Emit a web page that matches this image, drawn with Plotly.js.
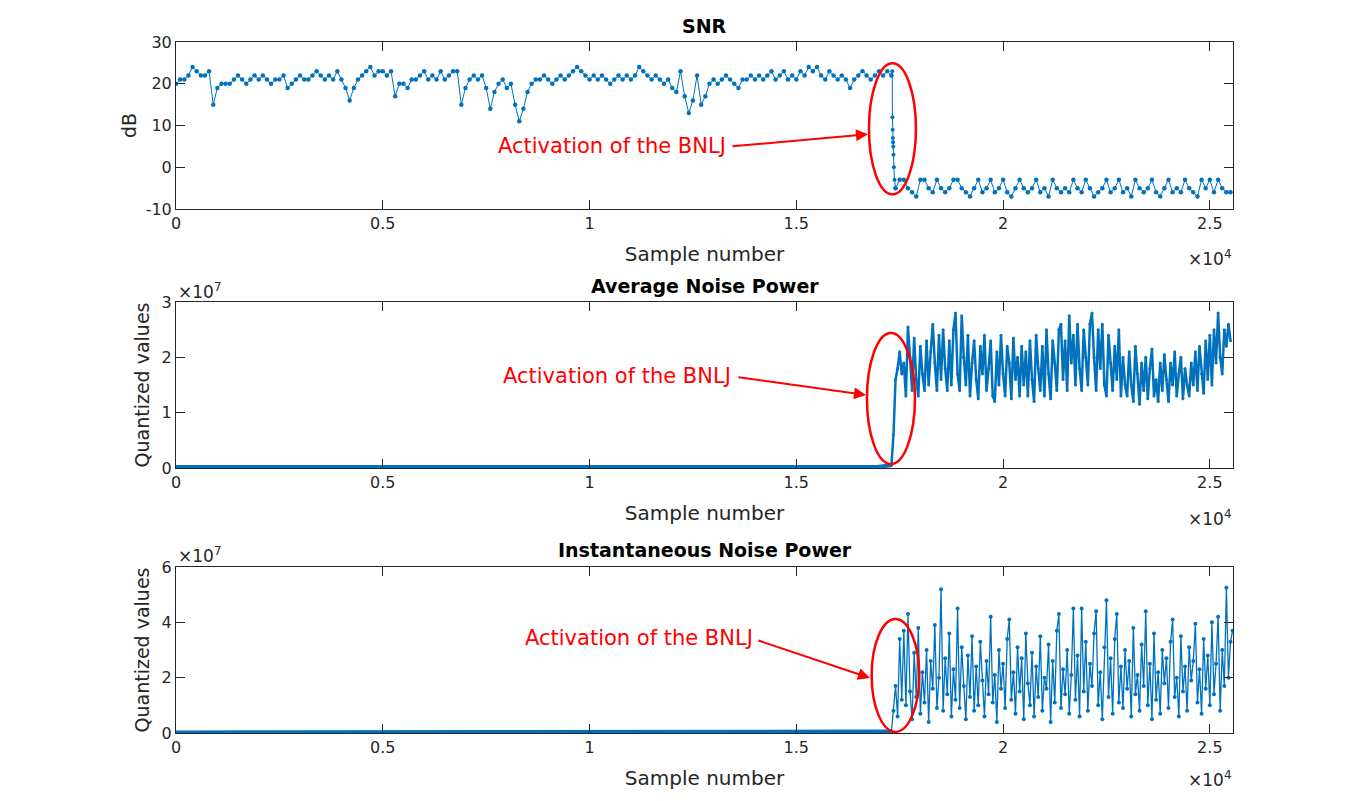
<!DOCTYPE html>
<html>
<head>
<meta charset="utf-8">
<script src="https://cdn.plot.ly/plotly-3.0.1.min.js"></script>
<style>html,body{margin:0;padding:0;background:#fff;}#chart{width:1364px;height:801px;}</style>
</head>
<body>
<div id="chart"></div>
<script>
// ---------- DATA ----------
// x tick labels (sample number, x 10^4)
const xTickVals = [0, 5000, 10000, 15000, 20000, 25000];
const xTickText = ['0', '0.5', '1', '1.5', '2', '2.5'];

// SNR (dB) before activation, one value every 100 samples starting at sample 0
const snrPre = [20,21,21,22,24,23,22,22,23,15,19,20,20,20,21,22,21,20,21,22,
21,22,21,20,21,21,22,19,20,21,22,21,21,22,23,22,21,22,21,23,
21,19,16,19,21,22,23,24,22,23,23,22,23,17,20,20,19,21,21,22,
23,21,22,21,23,21,22,23,23,15,19,21,22,21,22,19,14,18,20,21,
19,20,15,11,14,18,20,21,21,22,21,20,21,22,21,22,23,24,23,22,
21,22,21,22,21,20,21,22,21,22,21,22,24,23,22,21,22,21,20,21,
19,18,23,17,13,16,22,15,17,20,21,20,21,22,21,20,19,21,21,22,
21,22,21,22,23,21,22,23,21,22,21,23,22,24,23,24,22,21,23,22,
21,22,21,19,21,22,23,22,21,22,23,22,23,22];
// SNR during the activation drop (sample number, dB)
const snrDropX = [17300, 17320, 17325, 17330, 17335, 17340, 17345, 17350, 17360, 17375, 17400];
const snrDropY = [22, 23, 12, 9, 7, 6, 5, 3, 0, -3, -5];
// SNR after activation, one value every 100 samples starting at sample 17400
const snrPost = [-5,-3,-3,-5,-6,-7,-3,-3,-5,-6,-3,-5,-6,-5,-3,-3,-5,-6,-7,-5,
-3,-6,-5,-3,-6,-5,-3,-6,-7,-5,-3,-5,-6,-5,-3,-6,-5,-7,-3,-5,
-6,-5,-6,-3,-5,-6,-3,-5,-7,-6,-5,-3,-6,-5,-3,-6,-5,-7,-3,-5,
-6,-5,-3,-6,-7,-5,-3,-6,-5,-6,-3,-5,-6,-7,-3,-5,-3,-6,-3,-5,-6,-6];

// Average noise power (x 10^7) before activation, every 346 samples from 0
const avgPre = [0.02,0.02,0.02,0.02,0.02,0.02,0.02,0.02,0.02,0.02,
0.02,0.02,0.02,0.02,0.02,0.02,0.02,0.02,0.02,0.02,
0.02,0.02,0.02,0.02,0.03,0.03,0.02,0.02,0.02,0.02,
0.02,0.02,0.02,0.02,0.02,0.02,0.03,0.02,0.02,0.02,
0.02,0.02,0.02,0.02,0.02,0.02,0.02,0.02,0.02,0.02,0.05];
// Average noise power (x 10^7) after activation, every 50 samples from 17300
const avgPost = [0.05,0.6,1.6,1.8,2.1,1.7,1.9,1.3,
2.55,2.0,1.4,2.35,1.6,1.3,2.2,1.7,1.4,2.3,
1.5,2.1,2.6,1.9,1.4,2.4,1.6,2.5,1.8,1.4,2.3,1.5,2.5,2.8,1.7,1.4,
2.75,2.0,1.5,2.4,1.3,1.9,2.3,1.6,1.25,2.2,1.7,2.4,1.4,1.8,2.3,1.3,
1.2,2.1,1.5,2.4,1.7,1.3,2.2,1.9,1.25,2.35,1.6,2.0,1.3,2.2,1.5,2.1,
1.3,2.3,1.6,1.2,2.4,1.8,1.4,2.2,1.3,2.5,1.7,1.25,2.3,1.9,1.4,2.5,
2.6,1.6,2.3,1.4,2.75,1.9,2.4,1.5,2.6,1.8,1.4,2.5,2.0,1.5,2.6,2.8,
2.0,1.4,2.5,1.8,2.6,1.5,1.3,2.4,1.9,1.4,2.2,1.6,2.5,1.3,2.0,1.5,
1.3,2.1,1.5,1.2,2.2,1.7,1.15,1.9,1.4,2.0,1.25,1.8,2.15,1.3,1.6,1.2,
1.9,1.4,2.05,1.6,1.2,1.9,1.5,2.1,1.3,1.7,2.0,1.25,1.8,1.5,1.3,1.9,
1.5,2.1,1.4,2.2,1.7,1.35,2.3,1.6,2.4,1.5,2.5,1.9,2.8,2.0,1.7,2.5,2.2,2.6,2.3];

// Instantaneous noise power (x 10^7) before activation, every 346 samples from 0
const instPre = [0.02,0.02,0.03,0.02,0.02,0.02,0.02,0.02,0.02,0.02,
0.02,0.02,0.02,0.02,0.02,0.02,0.02,0.02,0.02,0.02,
0.03,0.02,0.02,0.02,0.03,0.02,0.02,0.02,0.02,0.02,
0.02,0.02,0.02,0.02,0.02,0.02,0.03,0.02,0.02,0.02,
0.02,0.02,0.02,0.02,0.02,0.02,0.02,0.02,0.02,0.02,0.05];
// Instantaneous noise power (x 10^7) after activation, every 50 samples from 17300
const instPost = [0.05,0.8,1.7,0.6,3.4,1.2,3.7,1.0,4.3,1.5,
0.5,2.9,1.3,3.8,0.7,2.2,1.1,3.0,0.4,2.6,
1.6,3.9,0.9,2.0,5.2,0.8,2.7,1.4,3.6,0.6,
2.3,1.2,4.5,0.9,3.1,1.7,0.5,2.8,1.3,3.5,
0.8,2.4,1.0,3.3,1.9,0.6,2.6,1.4,4.2,1.1,
2.1,0.4,3.0,1.6,2.5,0.9,3.4,4.1,1.2,2.2,
0.7,3.1,1.5,2.7,0.5,3.6,1.8,1.0,2.9,0.6,
2.4,1.3,3.5,0.8,2.0,1.6,3.2,0.4,2.6,1.1,
3.7,4.3,0.9,2.3,1.4,3.0,0.7,2.1,4.5,1.2,
2.8,0.6,4.5,1.5,3.3,0.8,2.5,1.7,3.6,4.4,
1.0,2.2,0.5,3.1,4.8,1.3,2.7,0.7,3.4,4.3,
1.1,2.4,0.9,3.0,1.6,2.6,0.6,3.8,1.4,2.1,
0.8,3.2,1.7,4.4,1.0,2.5,0.5,3.6,1.2,2.2,
0.7,3.0,1.8,2.7,0.9,3.3,4.1,1.3,2.0,0.6,
3.5,1.5,2.4,0.8,3.1,1.9,2.6,3.95,1.1,2.3,
0.7,3.4,1.6,2.8,1.0,4.0,1.4,2.5,4.2,0.8,
3.0,1.7,5.25,2.0,3.3,3.7];

// ---------- STYLE ----------
const BLUE = '#0072BD';
const AX = '#262626';
const FONT = 'DejaVu Sans, Liberation Sans, sans-serif';

const lm = (extra) => Object.assign({
  type: 'scatter', mode: 'lines+markers', showlegend: false, hoverinfo: 'skip',
  line: {color: BLUE, width: 1}, marker: {color: BLUE, size: 4}
}, extra);

const traces = [
  lm({x0: 0, dx: 100, y: snrPre, xaxis: 'x', yaxis: 'y', marker: {color: BLUE, size: 4.5}}),
  lm({x: snrDropX, y: snrDropY, xaxis: 'x', yaxis: 'y'}),
  lm({x0: 17400, dx: 100, y: snrPost, xaxis: 'x', yaxis: 'y', marker: {color: BLUE, size: 4.5}}),
  lm({x0: 0, dx: 346, y: avgPre, xaxis: 'x2', yaxis: 'y2', mode: 'lines', line: {color: BLUE, width: 4}}),
  lm({x0: 17300, dx: 50, y: avgPost, xaxis: 'x2', yaxis: 'y2', line: {color: BLUE, width: 2.5}, marker: {color: BLUE, size: 3}}),
  lm({x0: 0, dx: 346, y: instPre, xaxis: 'x3', yaxis: 'y3', mode: 'lines', line: {color: BLUE, width: 4}}),
  lm({x0: 17300, dx: 50, y: instPost, xaxis: 'x3', yaxis: 'y3', line: {color: BLUE, width: 1.3}, marker: {color: BLUE, size: 4}})
];

const xBase = (anchor) => ({
  anchor: anchor, domain: [0, 1], range: [0, 25560],
  tickmode: 'array', tickvals: xTickVals, ticktext: xTickText,
  ticks: 'inside', ticklen: 9, tickwidth: 1, tickcolor: AX,
  showline: true, linecolor: AX, linewidth: 1, mirror: 'ticks',
  showgrid: false, zeroline: false,
  tickfont: {family: FONT, size: 16, color: AX},
  title: {text: 'Sample number', font: {family: FONT, size: 20, color: AX}, standoff: 14}
});
const yBase = (anchor, dom, rng, tv, tt, title, standoff) => ({
  anchor: anchor, domain: dom, range: rng,
  tickmode: 'array', tickvals: tv, ticktext: tt,
  ticks: 'inside', ticklen: 9, tickwidth: 1, tickcolor: AX,
  showline: true, linecolor: AX, linewidth: 1, mirror: 'ticks',
  showgrid: false, zeroline: false,
  tickfont: {family: FONT, size: 16, color: AX},
  title: {text: title, font: {family: FONT, size: 19, color: AX}, standoff: standoff}
});

const red = 'rgb(255,0,0)';

const annotations = [
  // subplot titles
  {xref: 'paper', yref: 'paper', x: 0.5, y: 1.0232, text: '<b>SNR</b>', showarrow: false, font: {family: FONT, size: 19, color: '#000'}, yanchor: 'middle'},
  {xref: 'paper', yref: 'paper', x: 0.5, y: 0.6469, text: '<b>Average Noise Power</b>', showarrow: false, font: {family: FONT, size: 19, color: '#000'}, yanchor: 'middle'},
  {xref: 'paper', yref: 'paper', x: 0.5, y: 0.2648, text: '<b>Instantaneous Noise Power</b>', showarrow: false, font: {family: FONT, size: 19, color: '#000'}, yanchor: 'middle'},
  // exponent labels
  {xref: 'paper', yref: 'paper', x: 1, y: 0.6874, xanchor: 'right', yanchor: 'middle', text: '×10<sup>4</sup>', showarrow: false, font: {family: FONT, size: 17, color: AX}},
  {xref: 'paper', yref: 'paper', x: 1, y: 0.3111, xanchor: 'right', yanchor: 'middle', text: '×10<sup>4</sup>', showarrow: false, font: {family: FONT, size: 17, color: AX}},
  {xref: 'paper', yref: 'paper', x: 1, y: -0.066, xanchor: 'right', yanchor: 'middle', text: '×10<sup>4</sup>', showarrow: false, font: {family: FONT, size: 17, color: AX}},
  {xref: 'paper', yref: 'paper', x: 0, y: 0.6397, xanchor: 'left', yanchor: 'middle', text: '×10<sup>7</sup>', showarrow: false, font: {family: FONT, size: 17, color: AX}},
  {xref: 'paper', yref: 'paper', x: 0, y: 0.2576, xanchor: 'left', yanchor: 'middle', text: '×10<sup>7</sup>', showarrow: false, font: {family: FONT, size: 17, color: AX}},
  // "Activation of the BNLJ" labels
  {xref: 'x', yref: 'y', x: 13348, y: 5.0, xanchor: 'right', yanchor: 'middle', text: 'Activation of the BNLJ', showarrow: false, font: {family: FONT, size: 21, color: red}},
  {xref: 'x2', yref: 'y2', x: 13468, y: 1.66, xanchor: 'right', yanchor: 'middle', text: 'Activation of the BNLJ', showarrow: false, font: {family: FONT, size: 21, color: red}},
  {xref: 'x3', yref: 'y3', x: 14000, y: 3.43, xanchor: 'right', yanchor: 'middle', text: 'Activation of the BNLJ', showarrow: false, font: {family: FONT, size: 21, color: red}},
  // arrows
  {xref: 'x', yref: 'y', axref: 'x', ayref: 'y', x: 16733, y: 7.9, ax: 13420, ay: 5.0, text: '', showarrow: true, arrowhead: 2, arrowsize: 1.2, arrowwidth: 2, arrowcolor: red},
  {xref: 'x2', yref: 'y2', axref: 'x2', ayref: 'y2', x: 16684, y: 1.32, ax: 13565, ay: 1.645, text: '', showarrow: true, arrowhead: 2, arrowsize: 1.2, arrowwidth: 2, arrowcolor: red},
  {xref: 'x3', yref: 'y3', axref: 'x3', ayref: 'y3', x: 16781, y: 1.99, ax: 14049, ay: 3.36, text: '', showarrow: true, arrowhead: 2, arrowsize: 1.2, arrowwidth: 2, arrowcolor: red}
];

const shapes = [
  {type: 'circle', xref: 'x', yref: 'y', x0: 16757, x1: 17893, y0: -6.5, y1: 24.9, line: {color: red, width: 2.5}},
  {type: 'circle', xref: 'x2', yref: 'y2', x0: 16708, x1: 17869, y0: 0.07, y1: 2.44, line: {color: red, width: 2.5}},
  {type: 'circle', xref: 'x3', yref: 'y3', x0: 16822, x1: 17973, y0: 0.04, y1: 4.12, line: {color: red, width: 2.5}}
];

const layout = {
  width: 1364, height: 801,
  margin: {l: 176, r: 131, t: 42, b: 68},
  paper_bgcolor: '#fff', plot_bgcolor: '#fff',
  font: {family: FONT, color: AX},
  showlegend: false,
  xaxis: xBase('y'),
  xaxis2: xBase('y2'),
  xaxis3: xBase('y3'),
  yaxis: yBase('x', [0.7583, 1], [-10, 30], [-10, 0, 10, 20, 30], ['-10', '0', '10', '20', '30'], 'dB', 4),
  yaxis2: yBase('x2', [0.3835, 0.6237], [0, 3], [0, 1, 2, 3], ['0', '1', '2', '3'], 'Quantized values', 6),
  yaxis3: yBase('x3', [0, 0.2402], [0, 6], [0, 2, 4, 6], ['0', '2', '4', '6'], 'Quantized values', 6),
  annotations: annotations,
  shapes: shapes
};

Plotly.newPlot('chart', traces, layout, {displayModeBar: false, staticPlot: true});
</script>
</body>
</html>
